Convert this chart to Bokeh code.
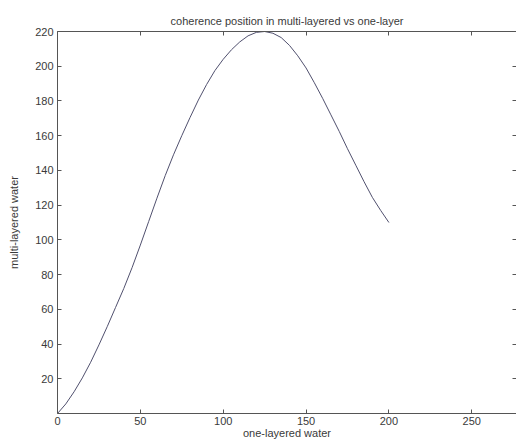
from bokeh.plotting import figure
from bokeh.models import Range1d, LinearAxis, FixedTicker
from bokeh.embed import file_html
from bokeh.resources import INLINE

# data
one_layer = [0, 5, 10, 15, 20, 25, 30, 35, 40, 45, 50, 55, 60, 65, 70, 75, 80, 85, 90, 95,
             100, 105, 110, 115, 120, 125, 130, 135, 140, 145, 150, 155, 160, 165, 170,
             175, 180, 185, 190, 195, 200]
multi_layer = [0, 5.5, 12.5, 20.5, 29.5, 39.5, 50, 61, 72, 84, 97, 110.5, 124, 137, 149,
               160, 170.5, 180.5, 189.5, 197.5, 204, 209.5, 214, 217.5, 219.5, 220, 219,
               216.5, 212, 206, 199, 190.5, 181.5, 172, 162.5, 152.5, 143, 133.5,
               124.5, 117, 110]
x_ticks = [0, 50, 100, 150, 200, 250]
y_ticks = [20, 40, 60, 80, 100, 120, 140, 160, 180, 200, 220]

FONT = "Liberation Sans"
TXT = "#3a3a3a"
AX = "#555555"

p = figure(width=516, height=441, output_backend="svg", toolbar_location=None,
           x_range=Range1d(0, 277), y_range=Range1d(0, 220),
           x_axis_location=None, y_axis_location=None,
           min_border_left=57, min_border_right=0, min_border_top=31, min_border_bottom=28,
           title="coherence position in multi-layered vs one-layer")
p.grid.visible = False
p.outline_line_color = None
p.background_fill_color = "white"
p.border_fill_color = "white"

p.title.align = "center"
p.title.text_font = FONT
p.title.text_font_size = "11px"
p.title.text_font_style = "normal"
p.title.text_color = TXT

def style(ax):
    ax.axis_line_color = AX
    ax.major_tick_line_color = AX
    ax.major_tick_in = 4
    ax.major_tick_out = 0
    ax.minor_tick_line_color = None
    ax.major_label_text_font = FONT
    ax.major_label_text_font_size = "11px"
    ax.major_label_text_color = TXT
    ax.axis_label_text_font = FONT
    ax.axis_label_text_font_size = "11px"
    ax.axis_label_text_font_style = "normal"
    ax.axis_label_text_color = TXT
    ax.major_label_standoff = 4

bottom = LinearAxis(axis_label="one-layered water", ticker=FixedTicker(ticks=x_ticks))
style(bottom)
bottom.major_label_standoff = 3
bottom.axis_label_standoff = -1
p.add_layout(bottom, "below")

top = LinearAxis(ticker=FixedTicker(ticks=x_ticks),
                 major_label_overrides={t: "" for t in x_ticks})
style(top)
top.major_label_standoff = 0
p.add_layout(top, "above")

left = LinearAxis(axis_label="multi-layered water", ticker=FixedTicker(ticks=y_ticks))
style(left)
left.axis_label_standoff = 12
p.add_layout(left, "left")

right = LinearAxis(ticker=FixedTicker(ticks=y_ticks),
                   major_label_overrides={t: "" for t in y_ticks})
style(right)
right.axis_line_color = None
right.major_label_standoff = 0
p.add_layout(right, "right")

p.line(one_layer, multi_layer, line_color="#50506e", line_width=1)

open("out.html", "w").write(file_html(p, INLINE))
